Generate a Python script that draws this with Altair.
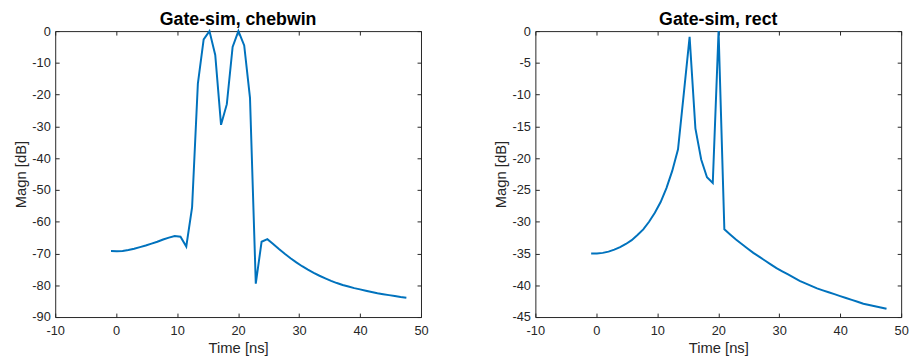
import altair as alt
import pandas as pd

time_ns = [-0.85, 0.10, 1.05, 2.00, 2.95, 3.90, 4.85, 5.80, 6.75, 7.70, 8.65, 9.60,
           10.55, 11.50, 12.45, 13.40, 14.35, 15.30, 16.25, 17.20, 18.15, 19.10,
           20.05, 21.00, 21.95, 22.90, 23.85, 24.80, 25.75, 26.70, 27.65, 28.60,
           29.55, 30.50, 31.45, 32.40, 33.35, 34.30, 35.25, 36.20, 37.15, 38.10,
           39.05, 40.00, 40.95, 41.90, 42.85, 43.80, 44.75, 45.70, 46.65, 47.60]

chebwin_db = [-69.2, -69.3, -69.2, -68.9, -68.5, -68.0, -67.5, -66.9, -66.3, -65.6,
              -65.0, -64.5, -64.7, -67.8, -55.5, -16.5, -2.6, 0.0, -7.5, -29.5,
              -23.0, -5.0, 0.0, -4.5, -21.0, -79.5, -66.3, -65.5, -67.0, -68.6,
              -70.1, -71.5, -72.8, -74.0, -75.1, -76.1, -77.0, -77.8, -78.6, -79.3,
              -79.9, -80.4, -80.9, -81.3, -81.7, -82.1, -82.5, -82.8, -83.1, -83.4,
              -83.7, -83.9]

rect_db = [-35.0, -35.0, -34.9, -34.7, -34.4, -34.0, -33.5, -32.9, -32.1, -31.2,
           -30.0, -28.6, -26.9, -24.7, -22.0, -18.6, -9.8, -0.9, -15.3, -20.2,
           -23.0, -23.9, 0.0, -31.2, -32.0, -32.8, -33.5, -34.2, -34.9, -35.5,
           -36.1, -36.7, -37.3, -37.8, -38.3, -38.8, -39.3, -39.7, -40.1, -40.5,
           -40.8, -41.1, -41.4, -41.7, -42.0, -42.3, -42.6, -42.9, -43.1, -43.3,
           -43.5, -43.7]

x_ticks = [-10, 0, 10, 20, 30, 40, 50]
y_ticks_cheb = [-90, -80, -70, -60, -50, -40, -30, -20, -10, 0]
y_ticks_rect = [-45, -40, -35, -30, -25, -20, -15, -10, -5, 0]

FONT = "Liberation Sans"
INK = "#262626"
LINE = "#0072BD"
TICK = 4


def panel(mags, title, ydom, yticks):
    df = pd.DataFrame({"t": time_ns, "m": mags})
    base = alt.Chart(df)
    xs = alt.Scale(domain=[-10, 50], nice=False, zero=False)
    ys = alt.Scale(domain=ydom, nice=False, zero=False)
    common = dict(offset=-TICK, tickSize=TICK, domain=False, grid=False,
                  tickColor=INK, labelColor=INK, titleColor=INK,
                  labelFont=FONT, titleFont=FONT, labelFontSize=13,
                  titleFontSize=15, titleFontWeight="normal",
                  labelExpr="datum.value + ''", labelFlush=False,
                  labelOverlap=False)
    main = base.mark_line(color=LINE, strokeWidth=2).encode(
        x=alt.X("t:Q", scale=xs,
                axis=alt.Axis(orient="bottom", values=x_ticks, title="Time [ns]",
                              labelPadding=8, titlePadding=3, **common)),
        y=alt.Y("m:Q", scale=ys,
                axis=alt.Axis(orient="left", values=yticks, title="Magn [dB]",
                              labelPadding=5, titlePadding=3, **common)),
    )
    frame = base.mark_line(strokeOpacity=0).encode(
        x=alt.X("t:Q", scale=xs,
                axis=alt.Axis(orient="top", values=x_ticks, title=None,
                              labels=False, **common)),
        y=alt.Y("m:Q", scale=ys,
                axis=alt.Axis(orient="right", values=yticks, title=None,
                              labels=False, **common)),
    )
    return alt.layer(main, frame).resolve_axis(
        x="independent", y="independent"
    ).properties(
        width=371, height=290,
        title=alt.TitleParams(title, font=FONT, fontSize=18, fontWeight="bold",
                              color="#000000", anchor="middle", offset=-4),
    )


left = panel(chebwin_db, "Gate-sim, chebwin", [-90, 0], y_ticks_cheb)
right = panel(rect_db, "Gate-sim, rect", [-45, 0], y_ticks_rect)

chart = alt.hconcat(left, right, spacing=65).properties(
    padding={"left": 13, "top": 8, "right": 3, "bottom": 0},
    background="#ffffff",
).configure_view(stroke=INK, strokeWidth=1)

chart.save("out.html", embed_options={"renderer": "svg", "actions": False})
